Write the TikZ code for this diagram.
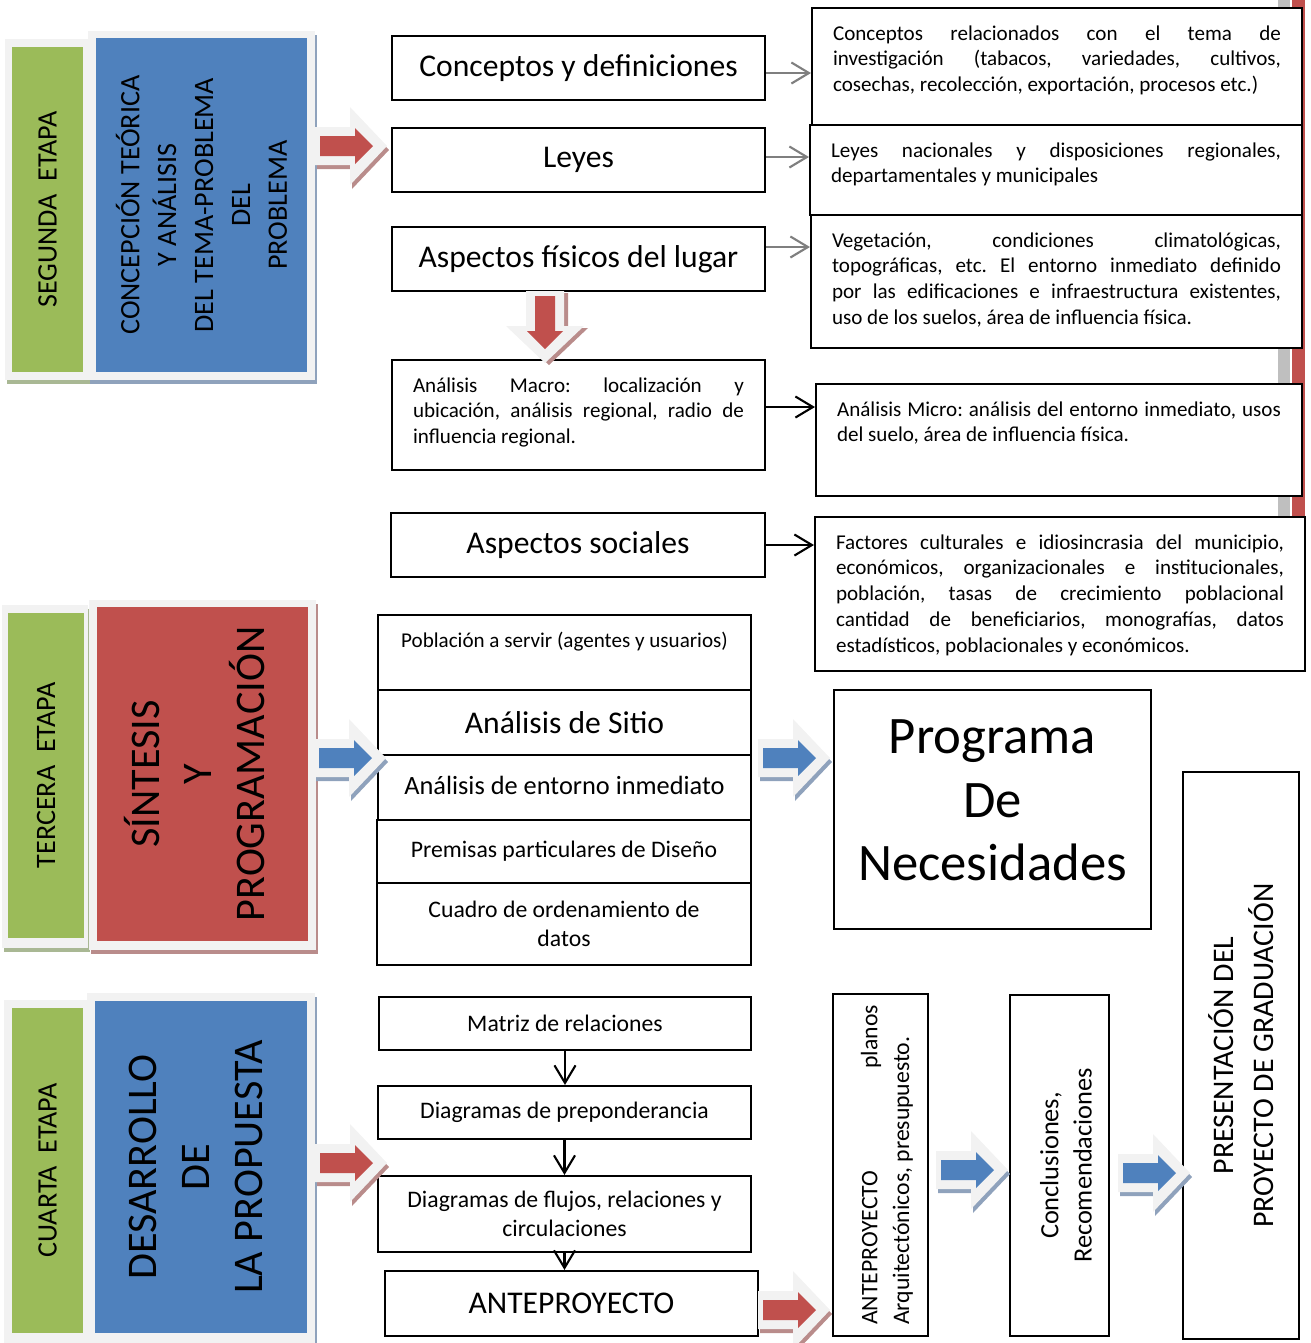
\documentclass[tikz,border=0pt]{standalone}
\usepackage{fontspec}
\setmainfont{Carlito}
\usetikzlibrary{arrows.meta}

\definecolor{stgreen}{HTML}{9BBB59}
\definecolor{stblue}{HTML}{4F81BD}
\definecolor{stred}{HTML}{C0504D}
\definecolor{stframe}{HTML}{F2F2F2}
\definecolor{shgreen}{HTML}{A9B894}
\definecolor{shblue}{HTML}{8FA2BC}
\definecolor{shred}{HTML}{B98C8B}
\definecolor{arrowgray}{HTML}{7F7F7F}
\definecolor{bargray}{HTML}{BFBFBF}

% top aligned text block: width, height, text
\newcommand{\topbox}[3]{\parbox[c][#2][t]{#1}{\tolerance=10000\hbadness=10000\frenchspacing #3}}
% block arrow: tip, angle, fill, shadow, shadow offset
\newcommand{\blockarrow}[5]{%
  \fill[#4, shift={#1}, shift={#5}, rotate=#2] (0,0) -- (-37,-39) -- (-37,-19) -- (-72,-19) -- (-72,19) -- (-37,19) -- (-37,39) -- cycle;
  \fill[stframe, shift={#1}, rotate=#2] (0,0) -- (-37,-39) -- (-37,-19) -- (-72,-19) -- (-72,19) -- (-37,19) -- (-37,39) -- cycle;
  \fill[#3, shift={#1}, rotate=#2] (-14,0) -- (-32,-18) -- (-32,-10) -- (-67,-10) -- (-67,10) -- (-32,10) -- (-32,18) -- cycle;}

\begin{document}
\begin{tikzpicture}[x=0.02cm, y=-0.02cm,
  box/.style={draw, line width=1.2pt, fill=white, inner sep=0pt},
  big/.style={font=\fontsize{18}{22}\selectfont},
  mid/.style={font=\fontsize{13.5}{16.5}\selectfont},
  small/.style={font=\fontsize{12}{14.7}\selectfont},
  note/.style={box, small, inner xsep=0.42cm, inner ysep=0.35cm},
  panel/.style={rotate=90, inner sep=0pt, align=center},
  link/.style={line width=1.2pt, -{Straight Barb[length=10pt,width=12pt]}},
  glink/.style={link, draw=arrowgray}]
\useasboundingbox (0,0) rectangle (1311,1343);

% bars at the right edge
\fill[bargray] (1278,0) rectangle (1290,520);
\fill[stred] (1292,0) rectangle (1305,520);

% segunda etapa
\fill[shgreen] (7,43) rectangle (90,384);
\fill[stframe] (5,39) rectangle (88,380);
\fill[shblue] (90,35) rectangle (317,384);
\fill[stframe] (88,31) rectangle (315,380);
\node[panel, fill=stgreen, minimum width=6.5cm, minimum height=1.42cm, font=\fontsize{16}{21}\selectfont] (seg) at (47.5,209.5) {SEGUNDA\ \ ETAPA};
\node[panel, fill=stblue, minimum width=6.68cm, minimum height=4.22cm, font=\fontsize{16}{21}\selectfont] (teoria) at (201.5,205) {CONCEPCIÓN TEÓRICA\\Y ANÁLISIS\\DEL TEMA-PROBLEMA\\DEL\\PROBLEMA};

% tercera etapa
\fill[shgreen] (4,609) rectangle (90,952);
\fill[stframe] (2,605) rectangle (88,948);
\fill[shred] (91,604) rectangle (318,954);
\fill[stframe] (89,600) rectangle (316,950);
\fill[stred] (97,607) rectangle (308,941);
\node[panel, fill=stgreen, minimum width=6.5cm, minimum height=1.52cm, font=\fontsize{16}{21}\selectfont] (terc) at (46,775.5) {TERCERA\ \ ETAPA};
\node[panel, font=\fontsize{24}{30}\selectfont] (sint) at (194.5,774) {SÍNTESIS\\Y\\PROGRAMACIÓN};

% cuarta etapa
\fill[shgreen] (6,1004) rectangle (91,1347);
\fill[stframe] (4,1000) rectangle (89,1343);
\fill[shblue] (89,997) rectangle (317,1347);
\fill[stframe] (87,993) rectangle (315,1343);
\fill[stblue] (95,1001) rectangle (307,1333);
\node[panel, fill=stgreen, minimum width=6.5cm, minimum height=1.42cm, font=\fontsize{16}{21}\selectfont] (cuar) at (47.5,1170.5) {CUARTA\ \ ETAPA};
\node[panel, font=\fontsize{24}{30}\selectfont] (desa) at (196,1167) {DESARROLLO\\DE\\LA PROPUESTA};

% segunda etapa, boxes
\node[box, big, minimum width=7.46cm, minimum height=1.28cm] (conc) at (578.5,68) {Conceptos y definiciones};
\node[box, big, minimum width=7.46cm, minimum height=1.28cm] (leyes) at (578.5,160) {Leyes};
\node[box, big, minimum width=7.46cm, minimum height=1.28cm] (fisic) at (578.5,259) {Aspectos físicos del lugar};
\node[note] (macro) at (578.5,415) {\topbox{6.62cm}{1.5cm}{Análisis Macro: localización y\linebreak ubicación, análisis regional, radio de\linebreak influencia regional.}};
\node[box, big, minimum width=7.48cm, minimum height=1.28cm] (social) at (578,545) {Aspectos sociales};

\node[note] (relac) at (1057,66.5) {\topbox{8.96cm}{1.64cm}{Conceptos relacionados con el tema de\linebreak investigación (tabacos, variedades, cultivos,\linebreak cosechas, recolección, exportación, procesos etc.)}};
\node[note] (leynac) at (1056,170) {\topbox{9.0cm}{1.1cm}{Leyes nacionales y disposiciones regionales,\linebreak departamentales y municipales}};
\node[note] (veget) at (1056.5,281.5) {\topbox{8.98cm}{1.96cm}{Vegetación, condiciones climatológicas,\linebreak topográficas, etc. El entorno inmediato definido\linebreak por las edificaciones e infraestructura existentes,\linebreak uso de los suelos, área de influencia física.}};
\node[note] (micro) at (1059,440) {\topbox{8.88cm}{1.54cm}{Análisis Micro: análisis del entorno inmediato, usos\linebreak del suelo, área de influencia física.}};
\node[note] (fact) at (1060,594) {\topbox{8.96cm}{2.38cm}{Factores culturales e idiosincrasia del municipio,\linebreak económicos, organizacionales e institucionales,\linebreak población, tasas de crecimiento poblacional\linebreak cantidad de beneficiarios, monografías, datos\linebreak estadísticos, poblacionales y económicos.}};

\draw[glink] (conc.east |- 0,73) -- (relac.west |- 0,73);
\draw[glink] (leyes.east |- 0,157) -- (leynac.west |- 0,157);
\draw[glink] (fisic.east |- 0,247) -- (veget.west |- 0,247);
\draw[link] (macro.east |- 0,407) -- (micro.west |- 0,407);
\draw[link] (social.east) -- (social.east -| fact.west);

% tercera etapa, boxes
\node[box, small, inner ysep=0.35cm] (pobl) at (564.5,652.5) {\topbox{7.46cm}{0.8cm}{\centering Población a servir (agentes y usuarios)}};
\node[box, big, minimum width=7.46cm, minimum height=1.3cm] (sitio) at (564.5,722.5) {Análisis de Sitio};
\node[box, font=\fontsize{15}{18}\selectfont, minimum width=7.46cm, minimum height=1.3cm] (entorno) at (564.5,787.5) {\raisebox{2pt}{Análisis de entorno inmediato}};
\node[box, mid, minimum width=7.48cm, minimum height=1.26cm] (premisa) at (564,851.5) {\raisebox{2pt}{Premisas particulares de Diseño}};
\node[box, mid, minimum width=7.48cm, minimum height=1.64cm, align=center] (cuadro) at (564,924) {Cuadro de ordenamiento de\\datos};
\node[box, font=\fontsize{30}{36}\selectfont, inner xsep=0pt, inner ysep=0.6cm] (progr) at (992.5,809.5) {\topbox{6.34cm}{3.58cm}{\centering Programa\\De\\Necesidades}};
\node[box, rotate=90, font=\fontsize{17}{22.7}\selectfont, minimum width=11.34cm, minimum height=2.32cm, align=center] (pres) at (1241,1055.5) {PRESENTACIÓN DEL\\PROYECTO DE GRADUACIÓN};

% cuarta etapa, boxes
\node[box, mid, minimum width=7.44cm, minimum height=1.06cm] (matriz) at (565,1023.5) {Matriz de relaciones};
\node[box, mid, minimum width=7.46cm, minimum height=1.06cm] (prepond) at (564.5,1112.5) {Diagramas de preponderancia};
\node[box, mid, minimum width=7.46cm, minimum height=1.52cm, align=center] (flujos) at (564.5,1214) {Diagramas de flujos, relaciones y\\circulaciones};
\node[box, big, minimum width=7.46cm, minimum height=1.3cm] (antep) at (571.5,1303.5) {ANTEPROYECTO};
\node[box, rotate=90, font=\fontsize{13.5}{18}\selectfont, inner xsep=0.22cm, inner ysep=0.56cm] (planos) at (880.5,1165) {\topbox{6.4cm}{0.78cm}{ANTEPROYECTO\hfill planos\\Arquitectónicos, presupuesto.}};
\node[box, rotate=90, font=\fontsize{15}{19}\selectfont, inner xsep=0pt, inner ysep=0.6cm] (concl) at (1059.5,1165.5) {\topbox{6.82cm}{0.78cm}{\centering Conclusiones,\\Recomendaciones}};

\draw[link] (matriz.south) -- (matriz.south |- prepond.north);
\draw[link] (prepond.south) -- (prepond.south |- flujos.north);
\draw[link] (flujos.south) -- (flujos.south |- antep.north);

% block arrows
\blockarrow{(387,146)}{0}{stred}{shred}{(2,4)}
\blockarrow{(545,363)}{-90}{stred}{shred}{(4,2)}
\blockarrow{(386,758)}{0}{stblue}{shblue}{(2,4)}
\blockarrow{(830,758)}{0}{stblue}{shblue}{(2,4)}
\blockarrow{(387,1163)}{0}{stred}{shred}{(2,4)}
\blockarrow{(830,1310)}{0}{stred}{shred}{(2,4)}
\blockarrow{(1008,1170)}{0}{stblue}{shblue}{(2,4)}
\blockarrow{(1190,1173)}{0}{stblue}{shblue}{(2,4)}
\end{tikzpicture}
\end{document}
